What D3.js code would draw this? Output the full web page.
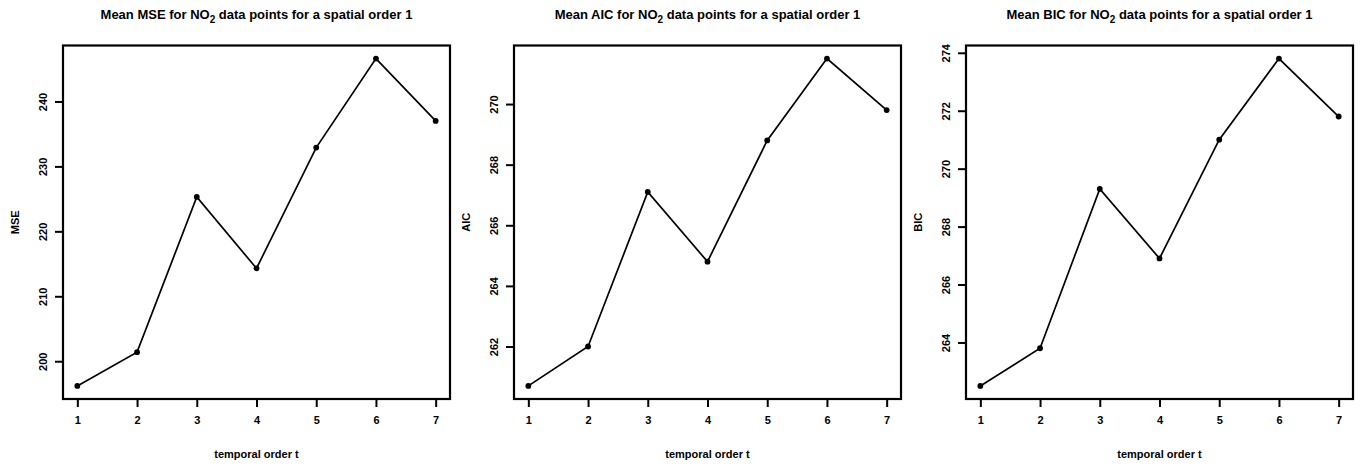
<!DOCTYPE html>
<html>
<head>
<meta charset="utf-8">
<script src="https://cdn.jsdelivr.net/npm/d3@7"></script>
<style>
  body { margin: 0; background: #fff; }
  text { font-family: "Liberation Sans", Arial, sans-serif; font-weight: bold; fill: #000; }
</style>
</head>
<body>
<div id="chart"></div>
<script>
// temporal order on the x axis
const temporalOrder = [1, 2, 3, 4, 5, 6, 7];
// series values
const mseValues = [196.2, 201.4, 225.3, 214.3, 232.9, 246.6, 237.0];
const aicValues = [260.7, 262.0, 267.1, 264.8, 268.8, 271.5, 269.8];
const bicValues = [262.5, 263.8, 269.3, 266.9, 271.0, 273.8, 271.8];
// y tick labels
const mseTicks = [200, 210, 220, 230, 240];
const aicTicks = [262, 264, 266, 268, 270];
const bicTicks = [264, 266, 268, 270, 272, 274];
const panelNames = ["MSE", "AIC", "BIC"];

const width = 1363, height = 466;
const svg = d3.select("#chart").append("svg")
  .attr("width", width)
  .attr("height", height);

const panelLeft = [63, 514, 966];
const boxW = 387, boxTop = 45.5, boxBottom = 399;

// R style: extend the range by 4% on each side
function pad(ext) {
  let d = (ext[1] - ext[0]) * 0.04;
  return [ext[0] - d, ext[1] + d];
}

function drawPanel(i, values, ticks) {
  let name = panelNames[i];
  let left = panelLeft[i];
  let g = svg.append("g").attr("transform", `translate(${left},0)`);

  let x = d3.scaleLinear()
    .domain(pad(d3.extent(temporalOrder)))
    .range([0, boxW]);
  let y = d3.scaleLinear()
    .domain(pad(d3.extent(values)))
    .range([boxBottom, boxTop]);

  // x axis
  let ax = g.append("g")
    .attr("transform", `translate(0,${boxBottom})`)
    .call(d3.axisBottom(x).tickValues(temporalOrder).tickSize(8).tickPadding(9).tickFormat(d3.format("d")));
  ax.select(".domain").remove();
  ax.selectAll("line").attr("stroke-width", 2);
  ax.selectAll("text").style("font-size", "11px").attr("font-family", null);

  // y axis, labels turned like R's default
  let ay = g.append("g")
    .call(d3.axisLeft(y).tickValues(ticks).tickSize(8));
  ay.select(".domain").remove();
  ay.selectAll("line").attr("stroke-width", 2);
  ay.selectAll("text")
    .style("font-size", "11px")
    .attr("font-family", null)
    .attr("transform", "rotate(-90)")
    .attr("x", 0)
    .attr("y", -20)
    .attr("dy", "0.35em")
    .attr("text-anchor", "middle");

  // the line and points
  let line = d3.line()
    .x((d, k) => x(temporalOrder[k]))
    .y((d) => y(d));
  g.append("path")
    .datum(values)
    .attr("d", line)
    .attr("fill", "none")
    .attr("stroke", "#000")
    .attr("stroke-width", 1.7);
  g.selectAll("circle")
    .data(values)
    .join("circle")
    .attr("cx", (d, k) => x(temporalOrder[k]))
    .attr("cy", (d) => y(d))
    .attr("r", 2.9)
    .attr("fill", "#000");

  // box
  g.append("rect")
    .attr("x", 0)
    .attr("y", boxTop)
    .attr("width", boxW)
    .attr("height", boxBottom - boxTop)
    .attr("fill", "none")
    .attr("stroke", "#000")
    .attr("stroke-width", 2.2);

  // title with subscript
  let title = g.append("text")
    .attr("x", boxW / 2)
    .attr("y", 19)
    .attr("text-anchor", "middle")
    .style("font-size", "13px");
  title.append("tspan").text(`Mean ${name} for NO`);
  title.append("tspan").attr("dy", 4).style("font-size", "10px").text("2");
  title.append("tspan").attr("dy", -4).text(" data points for a spatial order 1");

  g.append("text")
    .attr("x", boxW / 2)
    .attr("y", 458)
    .attr("text-anchor", "middle")
    .style("font-size", "11px")
    .text("temporal order t");

  g.append("text")
    .attr("transform", `translate(-48,${(boxTop + boxBottom) / 2}) rotate(-90)`)
    .attr("dy", "0.35em")
    .attr("text-anchor", "middle")
    .style("font-size", "11px")
    .text(name);
}

drawPanel(0, mseValues, mseTicks);
drawPanel(1, aicValues, aicTicks);
drawPanel(2, bicValues, bicTicks);
</script>
</body>
</html>
